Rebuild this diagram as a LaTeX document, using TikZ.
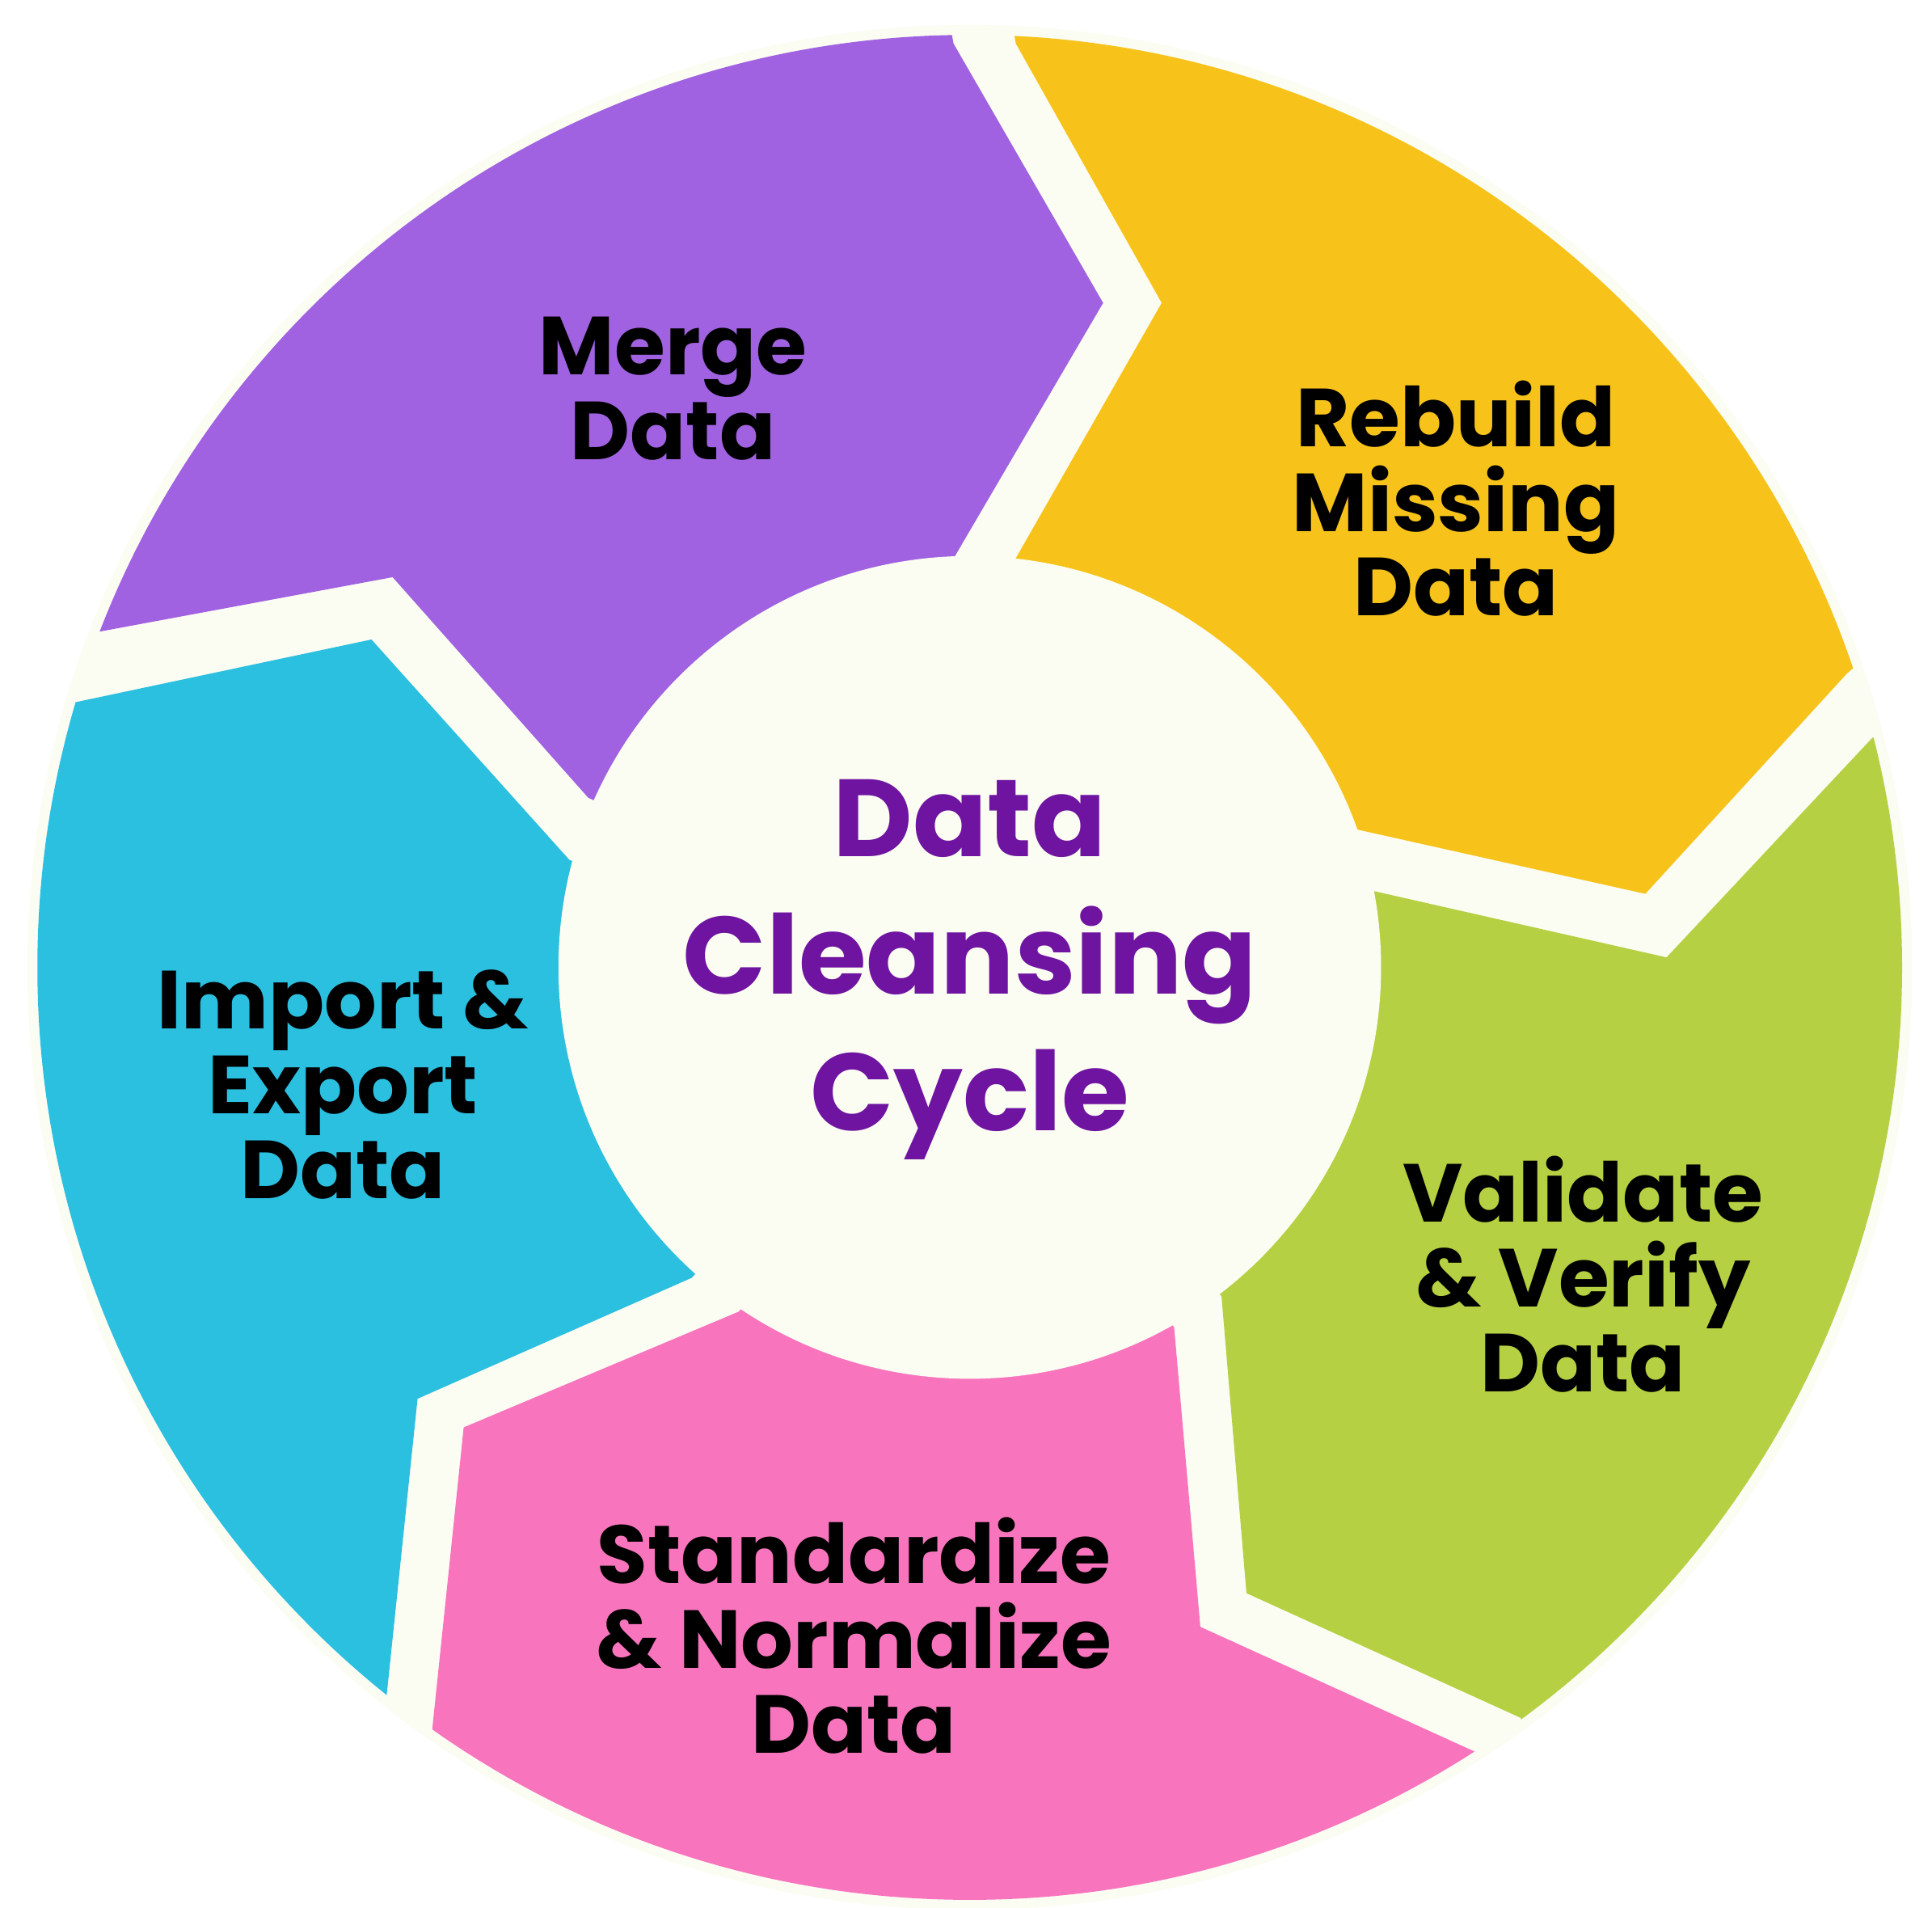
\documentclass[tikz,border=0pt]{standalone}
\usepackage{fontspec}
\setmainfont{Poppins}
\definecolor{cream}{HTML}{FBFCF2}
\definecolor{cpur}{HTML}{A062E0}
\definecolor{cyel}{HTML}{F7C31A}
\definecolor{cgrn}{HTML}{B5D042}
\definecolor{cpnk}{HTML}{F875BE}
\definecolor{ccyn}{HTML}{2BBFE0}
\definecolor{ctxt}{HTML}{6E14A0}
\begin{document}
\begin{tikzpicture}[x=1pt,y=-1pt,
  lbl/.style={font=\fontsize{66}{68}\selectfont\bfseries,align=center,text=black},
  ctr/.style={font=\fontsize{88}{110}\selectfont\bfseries,align=center,text=ctxt}]
\useasboundingbox[fill=white] (0,0) rectangle (1550,1530);
\coordinate (c) at (778,776);
\fill[cream] (c) circle (756);
\begin{scope}
\clip (c) circle (748);
\fill[cpur] (765,35)--(885,243)--(765,448)--(c)--(472,640)--(315,463)--(78,507)--(-100,520)--(-100,-100)--(740,-100)--cycle;
\fill[cyel] (815,35)--(932,243)--(812,453)--(c)--(1087,665)--(1320,717)--(1482,540)--(1650,400)--(1650,-100)--(790,-100)--cycle;
\fill[cgrn] (1502,592)--(1337,768)--(1103,715)--(c)--(980,1040)--(1000,1278)--(1220,1378)--(1300,1650)--(1700,1650)--(1700,500)--cycle;
\fill[cpnk] (1183,1405)--(963,1305)--(942,1065)--(c)--(593,1052)--(372,1145)--(347,1385)--(330,1650)--(1300,1650)--cycle;
\fill[ccyn] (310,1362)--(335,1122)--(555,1025)--(c)--(457,690)--(298,513)--(62,563)--(-100,590)--(-100,1650)--(300,1650)--cycle;
\end{scope}
\fill[cream] (c) circle (330);
\node[lbl] (m) at (540,312) {Merge\\Data};
\node[lbl] (r) at (1168,400) {Rebuild\\Missing\\Data};
\node[lbl] (v) at (1270,1022) {Validate\\\& Verify\\Data};
\node[lbl] (s) at (685,1312) {Standardize\\\& Normalize\\Data};
\node[lbl] (i) at (275,870) {Import \&\\Export\\Data};
\node[ctr] (t) at (778,778) {Data\\Cleansing\\Cycle};
\end{tikzpicture}
\end{document}
